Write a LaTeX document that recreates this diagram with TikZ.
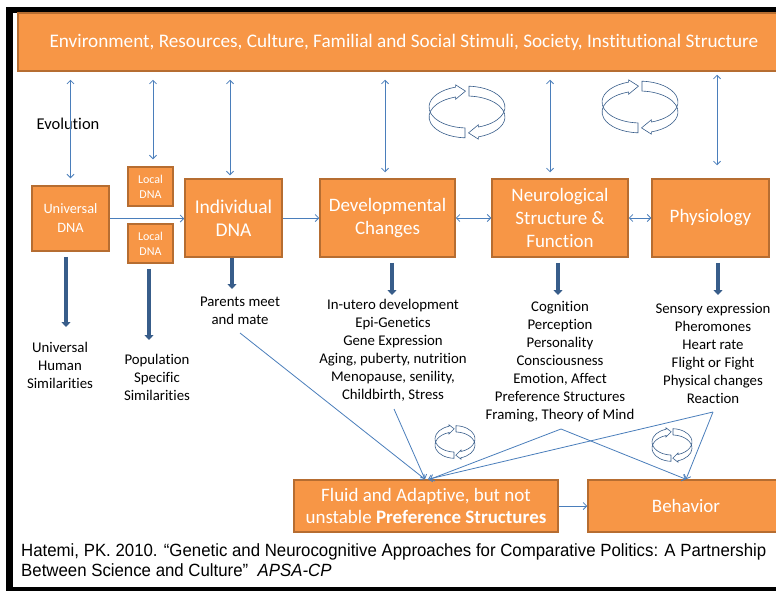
\documentclass[tikz,border=0pt]{standalone}
\usepackage{fontspec}
\setmainfont{Carlito}[Ligatures={TeX,NoCommon}]
\newfontfamily\citefont[FakeStretch=0.95]{Liberation Sans}
\usetikzlibrary{arrows.meta}

\definecolor{boxfill}{HTML}{F79646}
\definecolor{boxline}{HTML}{B66D31}
\definecolor{linkblue}{HTML}{4A7EBB}
\definecolor{darkblue}{HTML}{385D8A}

\def\cyclehalf{(-0.052,-0.419) arc[start angle=267, end angle=107.5, x radius=1, y radius=0.55]
  -- (-0.30,0.715) -- (-0.04,0.55) -- (-0.30,0.335) -- (-0.30,0.3945)
  arc[start angle=107.5, end angle=267, x radius=1, y radius=0.55] -- cycle}

\tikzset{
  orangebox/.style={draw=boxline, fill=boxfill, line width=1.5pt, text=white, align=center, inner sep=0pt},
  link/.style={draw=linkblue, line width=0.8pt, -{Straight Barb[length=3.5pt,width=7pt]}},
  twoway/.style={link, {Straight Barb[length=3.5pt,width=7pt]}-{Straight Barb[length=3.5pt,width=7pt]}},
  heavy/.style={draw=darkblue, line width=4pt, -{Triangle[length=5pt,width=9pt]}},
  listtext/.style={align=center, inner sep=0pt, font=\fontsize{14.8}{18}\selectfont},
}

\begin{document}
\begin{tikzpicture}[x=1pt, y=-1pt]
    \useasboundingbox[fill=white] (0,0) rectangle (776,592);
    \fill[black] (6,7) rectangle (776,13);
    \fill[black] (6,7) rectangle (13,591);
    \fill[black] (6,587) rectangle (776,591);

    \node[orangebox, minimum width=772pt, minimum height=58pt, font=\fontsize{19.2}{23}\selectfont] (env) at (404,42)
      {Environment, Resources, Culture, Familial and Social Stimuli, Society, Institutional Structure};

    \node[orangebox, minimum width=77pt, minimum height=65pt, font=\fontsize{14.3}{19}\selectfont] (univ) at (70.5,218.5) {Universal\\DNA};
    \node[orangebox, minimum width=45pt, minimum height=39pt, font=\fontsize{12}{15}\selectfont] (loc1) at (150.5,186.5) {Local\\DNA};
    \node[orangebox, minimum width=45pt, minimum height=39pt, font=\fontsize{12}{15}\selectfont] (loc2) at (150.5,243.5) {Local\\DNA};
    \node[orangebox, minimum width=97pt, minimum height=78pt, font=\fontsize{19.5}{23}\selectfont] (indiv) at (233.5,218) {Individual\\DNA};
    \node[orangebox, minimum width=135pt, minimum height=78pt, font=\fontsize{19}{23}\selectfont] (dev) at (387.5,218) {Developmental\\Changes};
    \node[orangebox, minimum width=136pt, minimum height=78pt, font=\fontsize{19}{23}\selectfont] (neuro) at (560,218) {Neurological\\Structure \&\\Function};
    \node[orangebox, minimum width=117pt, minimum height=78pt, font=\fontsize{19}{23}\selectfont] (phys) at (710.5,218) {Physiology};
    \node[orangebox, minimum width=264pt, minimum height=52pt, font=\fontsize{19}{22}\selectfont] (fluid) at (426,506)
      {Fluid and Adaptive, but not\\unstable \textbf{Preference Structures}};
    \node[orangebox, minimum width=196pt, minimum height=52pt, font=\fontsize{19}{22}\selectfont] (behav) at (686,506) {Behavior};

    \node[font=\fontsize{16.5}{18}\selectfont] (evo) at (68,124) {Evolution};

    \node[listtext] (uhs) at (60,365) {Universal\\Human\\Similarities};
    \node[listtext] (pss) at (157,377) {Population\\Specific\\Similarities};
    \node[listtext] (pmm) at (240,311) {Parents meet\\and mate};
    \node[listtext] (devlist) at (393,350) {In-utero development\\Epi-Genetics\\Gene Expression\\Aging, puberty, nutrition\\Menopause, senility,\\Childbirth, Stress};
    \node[listtext] (neurolist) at (560,362) {Cognition\\Perception\\Personality\\Consciousness\\Emotion, Affect\\Preference Structures\\Framing, Theory of Mind};
    \node[listtext] (physlist) at (713,353) {Sensory expression\\Pheromones\\Heart rate\\Flight or Fight\\Physical changes\\Reaction};

    \draw[twoway, shorten <=8pt, shorten >=7pt] (univ.north |- env.south) -- (univ.north);
    \draw[twoway, shorten <=8pt, shorten >=7pt] ([xshift=2.5pt]loc1.north |- env.south) -- ([xshift=2.5pt]loc1.north);
    \draw[twoway, shorten <=8pt, shorten >=3pt] ([xshift=-3.5pt]indiv.north |- env.south) -- ([xshift=-3.5pt]indiv.north);
    \draw[twoway, shorten <=8pt, shorten >=6pt] ([xshift=-2.5pt]dev.north |- env.south) -- ([xshift=-2.5pt]dev.north);
    \draw[twoway, shorten <=8pt, shorten >=6pt] ([xshift=-10pt]neuro.north |- env.south) -- ([xshift=-10pt]neuro.north);
    \draw[twoway, shorten <=3pt, shorten >=13pt] ([xshift=6.5pt]phys.north |- env.south) -- ([xshift=6.5pt]phys.north);

    \draw[link] (univ.east) -- (univ.east -| indiv.west);
    \draw[link] (indiv) -- (dev);
    \draw[twoway] (dev) -- (neuro);
    \draw[twoway] (neuro) -- (phys);
    \draw[link] (fluid) -- (behav);

    \coordinate (uhstop) at (66,327);
    \coordinate (psstop) at (149,340);
    \coordinate (pmmtop) at (232,289);
    \coordinate (devtop) at (392,295);
    \coordinate (neurotop) at (558,295);
    \coordinate (phystop) at (718,295);
    \draw[heavy, shorten <=5pt] (univ.south -| uhstop) -- (uhstop);
    \draw[heavy, shorten <=5pt] (loc2.south -| psstop) -- (psstop);
    \draw[heavy] (indiv.south -| pmmtop) -- (pmmtop);
    \draw[heavy, shorten <=5pt] (dev.south -| devtop) -- (devtop);
    \draw[heavy, shorten <=5pt] (neuro.south -| neurotop) -- (neurotop);
    \draw[heavy, shorten <=5pt] (phys.south -| phystop) -- (phystop);

    \coordinate (pmmout) at (240,333);
    \coordinate (devout) at (394,409);
    \coordinate (neuroout) at (561,429);
    \coordinate (physout) at (713,412);
    \draw[link] (pmmout) -- ([xshift=-1pt]fluid.north);
    \draw[link] (devout) -- ([xshift=-1pt]fluid.north);
    \draw[link] (neuroout) -- ([xshift=4pt]fluid.north);
    \draw[link] (physout) -- ([xshift=2pt]fluid.north);
    \draw[link] (neuroout) -- (behav.north);
    \draw[link] (physout) -- (behav.north);

    \foreach \cx/\cy/\s/\t in {467/112/38/1, 640/107/38/1, 455/442/20/1.2, 672/445/20/1.2} {
      \begin{scope}[shift={(\cx,\cy)}, yscale=-\t, scale=\s]
        \filldraw[fill=white, draw=darkblue, line width=0.6pt] \cyclehalf;
        \filldraw[fill=white, draw=darkblue, line width=0.6pt, rotate=180] \cyclehalf;
      \end{scope}
    }

    \node[anchor=west, align=left, inner sep=0pt, font=\citefont\fontsize{17.7}{20.5}\selectfont] (cite) at (21,560)
      {Hatemi, PK. 2010. “Genetic and Neurocognitive Approaches for Comparative Politics: A Partnership\\Between Science and Culture”\ \ \textit{APSA-CP}};
\end{tikzpicture}
\end{document}
